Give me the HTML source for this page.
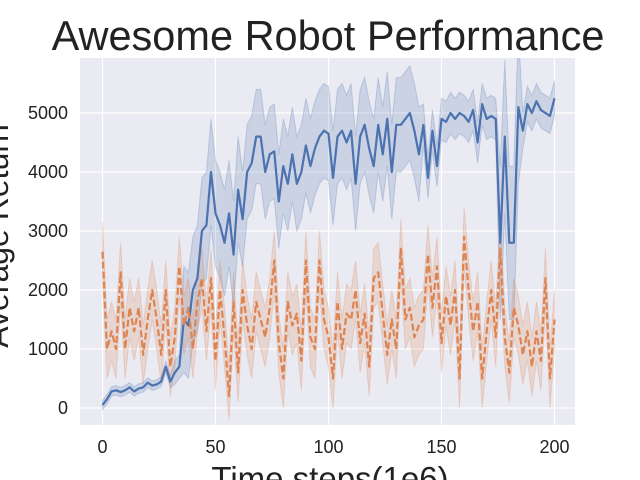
<!DOCTYPE html>
<html><head><meta charset="utf-8"><style>
body{margin:0;background:#fff}
svg{display:block;font-family:"Liberation Sans","DejaVu Sans",sans-serif}
</style></head><body>
<svg id="chart" width="640" height="480" viewBox="0 0 640 480">
<defs><clipPath id="pc"><rect x="80" y="58" width="495" height="367"/></clipPath></defs>
<rect x="0" y="0" width="640" height="480" fill="#fff"/>
<rect x="80" y="58" width="495" height="367" fill="#eaeaf2"/>
<g id="grid"></g>
<g id="series" clip-path="url(#pc)"></g>
<g id="ticks"></g>
<text x="328" y="50" font-size="41.5" text-anchor="middle" fill="#222">Awesome Robot Performance</text>
<text x="330" y="490" font-size="33" text-anchor="middle" fill="#222">Time steps(1e6)</text>
<text transform="translate(8,236) rotate(-90)" font-size="32" text-anchor="middle" fill="#222">Average Return</text>
</svg>
<script>
const xTicks=[0,50,100,150,200];
const yTicks=[0,1000,2000,3000,4000,5000];
const steps=[0,2,4,6,8,10,12,14,16,18,20,22,24,26,28,30,32,34,36,38,40,42,44,46,48,50,52,54,56,58,60,62,64,66,68,70,72,74,76,78,80,82,84,86,88,90,92,94,96,98,100,102,104,106,108,110,112,114,116,118,120,122,124,126,128,130,132,134,136,138,140,142,144,146,148,150,152,154,156,158,160,162,164,166,168,170,172,174,176,178,180,182,184,186,188,190,192,194,196,198,200];
const blueMean=[50,150,280,300,270,300,350,280,330,350,430,380,400,450,700,450,600,700,1500,1400,2000,2200,3000,3100,4000,3300,3100,2800,3300,2600,3700,3200,4000,4150,4600,4600,4000,4300,4350,3500,4100,3800,4300,3800,4000,4450,4100,4400,4600,4700,4650,3900,4600,4700,4500,4700,3800,4600,4800,4400,4100,4800,4300,4900,4000,4800,4800,4900,5000,4700,4300,4800,3900,4700,4100,4900,4850,5000,4900,5000,4950,4850,5050,4500,5150,4900,4950,4900,2800,4600,2800,2800,5100,4700,5150,5000,5200,5050,5000,4950,5250];
const blueErr=[80,80,80,80,80,80,80,80,80,80,80,80,80,80,100,100,200,200,900,900,900,900,900,900,900,900,900,900,900,900,900,800,800,800,800,800,800,800,800,800,800,800,800,800,800,800,800,800,800,800,800,800,800,800,800,800,800,800,800,800,800,800,800,800,800,800,800,800,800,800,800,350,350,350,350,350,350,350,350,350,350,350,350,350,350,350,350,350,1300,1300,1300,1300,1300,300,300,300,300,300,300,300,300];
const orangeMean=[2650,1000,1300,1000,2300,1000,1700,1300,1700,900,1500,2000,1500,900,2000,700,1200,2400,1400,1700,1000,1800,2200,1300,2200,800,2000,1200,200,1800,600,2000,1400,1000,1800,1500,1200,1700,2500,1100,500,1800,1400,1600,800,2500,1200,1000,2500,1500,1200,500,1800,1000,1600,1500,2000,1100,1600,700,2200,2300,1600,900,1500,1000,2700,1500,1700,1200,1400,1500,2600,1700,2400,1100,1900,1400,2000,500,2900,2000,1300,1800,500,1300,2000,1200,2700,1200,600,1700,1400,900,1300,700,1300,800,2200,500,1500];
const orangeErr=[500,500,500,500,500,500,500,500,500,500,500,500,500,500,500,500,500,500,500,500,500,500,500,500,500,500,500,500,500,500,500,500,500,500,500,500,500,500,500,500,500,500,500,500,500,500,500,500,500,500,500,500,500,500,500,500,500,500,500,500,500,500,500,500,500,500,500,500,500,500,500,500,500,500,500,500,500,500,500,500,500,500,500,500,500,500,500,500,500,500,500,500,500,500,500,500,500,500,500,500,500];

const NS='http://www.w3.org/2000/svg';
const X=t=>102.5+t*2.26;
const Y=v=>408-v*0.059;
function mk(tag,parent,attrs){const e=document.createElementNS(NS,tag);for(const k in attrs)e.setAttribute(k,attrs[k]);parent.appendChild(e);return e;}
const grid=document.getElementById('grid'),ticks=document.getElementById('ticks'),series=document.getElementById('series');
xTicks.forEach(t=>{
  const l=mk('line',grid,{x1:X(t),x2:X(t),y1:58,y2:425,stroke:'#fff','stroke-width':1.2});
  
  
  const tx=mk('text',ticks,{x:X(t),y:453,'font-size':18,'text-anchor':'middle',fill:'#222'});
  tx.textContent=t;
  
  
});
yTicks.forEach(v=>{
  const l=mk('line',grid,{x1:80,x2:575,y1:Y(v),y2:Y(v),stroke:'#fff','stroke-width':1.2});
  
  
  const tx=mk('text',ticks,{x:68,y:Y(v)+6,'font-size':18,'text-anchor':'end',fill:'#222'});
  tx.textContent=v;
  
  
});
function band(mean,err,color,name){
  let up=steps.map((t,i)=>X(t)+','+Y(mean[i]+err[i]));
  let dn=steps.map((t,i)=>X(t)+','+Y(Math.max(mean[i]-err[i],-200))).reverse();
  const p=mk('polygon',series,{points:up.concat(dn).join(' '),fill:color,'fill-opacity':0.2,stroke:color,'stroke-opacity':0.25});
  
  
}
function line(mean,color,dash,name){
  const p=mk('polyline',series,{points:steps.map((t,i)=>X(t)+','+Y(mean[i])).join(' '),fill:'none',stroke:color,'stroke-width':2.2,'stroke-linejoin':'round'});
  if(dash)p.setAttribute('stroke-dasharray',dash);
  
  
}
band(blueMean,blueErr,'#4c72b0','blue-confidence-band');
band(orangeMean,orangeErr,'#dd8452','orange-confidence-band');
line(blueMean,'#4c72b0',null,'blue-mean-line');
line(orangeMean,'#dd8452','7,3','orange-mean-line');
</script>
</body></html>
